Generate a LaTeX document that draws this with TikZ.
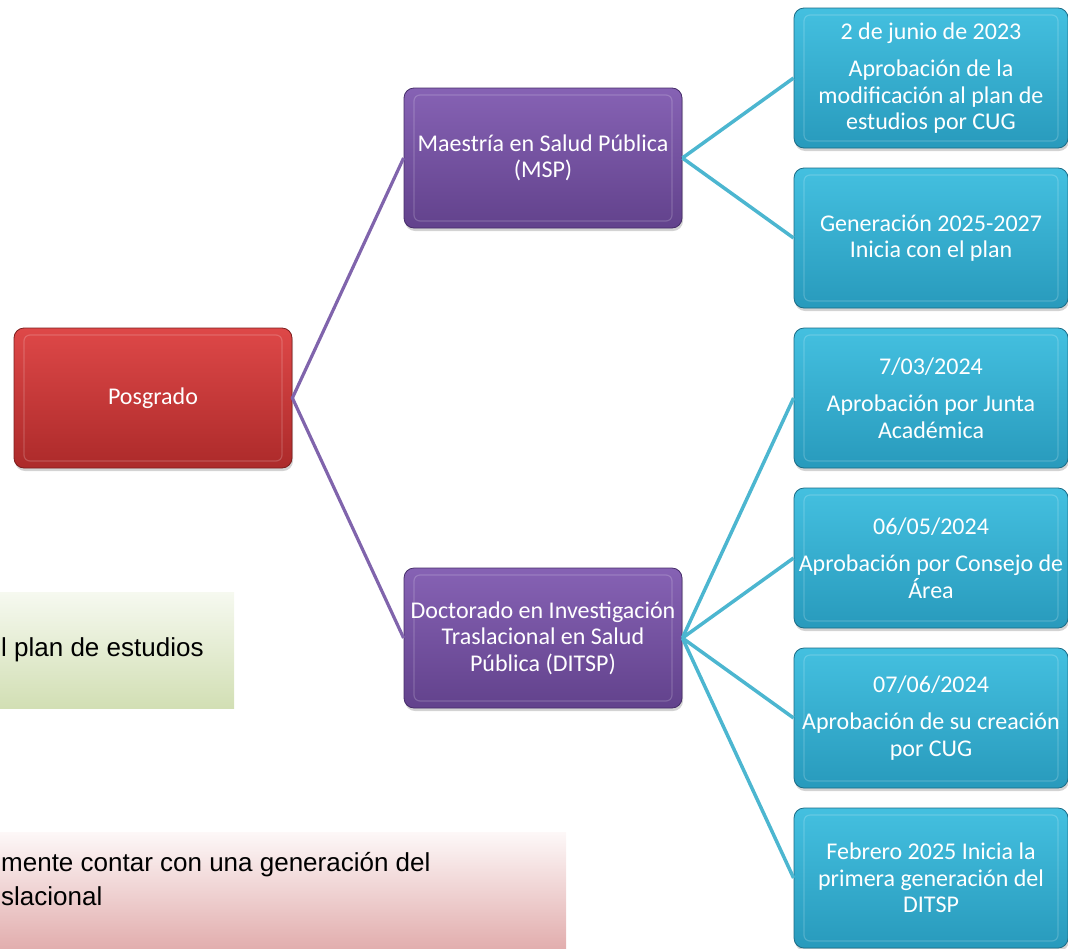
\documentclass[tikz,border=0pt]{standalone}
\usepackage{fontspec}
\setmainfont{Carlito}
\newfontfamily\arialfont{Liberation Sans}
\usetikzlibrary{shadows}

\definecolor{redtop}{RGB}{222,72,72}
\definecolor{redbot}{RGB}{172,42,42}
\definecolor{redline}{RGB}{125,30,30}
\definecolor{purtop}{RGB}{134,98,180}
\definecolor{purbot}{RGB}{98,66,140}
\definecolor{purline}{RGB}{70,45,105}
\definecolor{teatop}{RGB}{68,192,224}
\definecolor{teabot}{RGB}{40,154,188}
\definecolor{tealine}{RGB}{28,108,134}
\definecolor{purconn}{RGB}{128,100,172}
\definecolor{teaconn}{RGB}{76,182,208}
\definecolor{greentop}{RGB}{246,249,240}
\definecolor{greenbot}{RGB}{210,223,180}
\definecolor{pinktop}{RGB}{253,248,248}
\definecolor{pinkbot}{RGB}{226,174,174}

\begin{document}
\begin{tikzpicture}[x=1pt,y=-1pt]
\tikzstyle{every node}=[font=\fontsize{24}{26.5}\selectfont]
\tikzstyle{box}=[rounded corners=10pt, minimum height=140pt, inner sep=0pt, align=center,
  text=white, line width=0.8pt, drop shadow={opacity=0.35, shadow xshift=1pt, shadow yshift=-3pt},
  path picture={\draw[white, opacity=0.18, line width=1.2pt, rounded corners=6pt]
    ([shift={(10pt,-7pt)}]path picture bounding box.north west) rectangle
    ([shift={(-10pt,7pt)}]path picture bounding box.south east);}]
\tikzstyle{redbox}=[box, minimum width=278pt, top color=redtop, bottom color=redbot, draw=redline]
\tikzstyle{purbox}=[box, minimum width=278pt, top color=purtop, bottom color=purbot, draw=purline]
\tikzstyle{teabox}=[box, minimum width=274pt, top color=teatop, bottom color=teabot, draw=tealine]
\tikzstyle{purlink}=[draw=purconn, line width=3.2pt]
\tikzstyle{tealink}=[draw=teaconn, line width=3.5pt]
\tikzstyle{note}=[font=\arialfont\fontsize{26}{34}\selectfont, text=black, anchor=west, align=left, inner sep=0pt]

\useasboundingbox (0,0) rectangle (1068,948);

% notes on the left
\shade[top color=greentop, bottom color=greenbot] (0,592) rectangle (234,708);
\node[note] (plannote) at (1,650) {l plan de estudios};
\shade[top color=pinktop, bottom color=pinkbot] (0,832) rectangle (566,948);
\node[note] (gennote) at (1,879) {mente contar con una generación del\\slacional};

% main boxes
\node[redbox] (posgrado) at (153,398) {Posgrado};
\node[purbox] (msp) at (543,158) {Maestría en Salud Pública\\(MSP)};
\node[purbox] (ditsp) at (543,638) {Doctorado en Investigación\\Traslacional en Salud\\Pública (DITSP)};

% steps
\node[teabox] (m1) at (931,78) {2 de junio de 2023\\[11pt]Aprobación de la\\modificación al plan de\\estudios por CUG};
\node[teabox] (m2) at (931,238) {Generación 2025-2027\\Inicia con el plan};
\node[teabox] (d1) at (931,398) {7/03/2024\\[11pt]Aprobación por Junta\\Académica};
\node[teabox] (d2) at (931,558) {06/05/2024\\[11pt]Aprobación por Consejo de\\Área};
\node[teabox] (d3) at (931,718) {07/06/2024\\[11pt]Aprobación de su creación\\por CUG};
\node[teabox] (d4) at (931,878) {Febrero 2025 Inicia la\\primera generación del\\DITSP};

% links
\draw[purlink] (msp.west) -- (posgrado.east) -- (ditsp.west);
\foreach \s in {m1,m2}
  \draw[tealink] (msp.east) -- (\s.west);
\foreach \s in {d1,d2,d3,d4}
  \draw[tealink] (ditsp.east) -- (\s.west);
\end{tikzpicture}
\end{document}
